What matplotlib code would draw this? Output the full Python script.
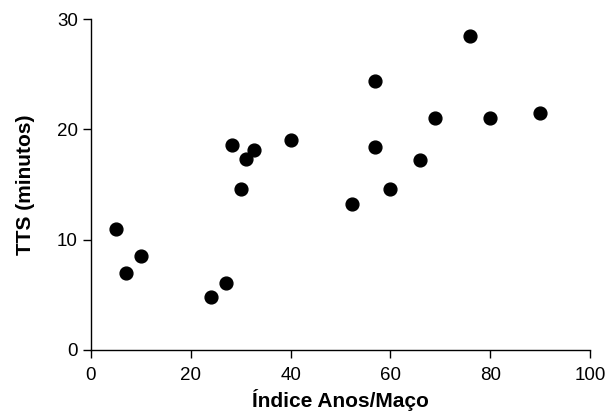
import matplotlib
matplotlib.use("Agg")
import matplotlib.pyplot as plt

plt.rcParams['font.family'] = ['Liberation Sans', 'DejaVu Sans']

indice = [5, 7, 10, 24, 27, 28.2, 30, 31, 32.7, 40,
          52.4, 57, 57, 60, 66, 69, 76, 80, 90]
tts = [11.0, 7.0, 8.5, 4.8, 6.1, 18.6, 14.6, 17.3, 18.1, 19.0,
       13.2, 24.4, 18.4, 14.6, 17.2, 21.0, 28.5, 21.0, 21.5]
xticks = [0, 20, 40, 60, 80, 100]
yticks = [0, 10, 20, 30]

fig = plt.figure(figsize=(6.07, 4.18), dpi=100)
ax = fig.add_axes([91/607, 68/418, 499/607, 331/418])
ax.scatter(indice, tts, s=85, color='black', zorder=3, clip_on=False)
ax.set_xlim(0, 100)
ax.set_ylim(0, 30)
ax.set_xticks(xticks)
ax.set_yticks(yticks)
ax.spines['top'].set_visible(False)
ax.spines['right'].set_visible(False)
for s in ('left', 'bottom'):
    ax.spines[s].set_linewidth(1.0)
ax.tick_params(direction='out', length=6, width=1.0, labelsize=13.5)
ax.tick_params(axis='x', pad=6)
ax.tick_params(axis='y', pad=3.5)
ax.set_xlabel('Índice Anos/Maço', fontsize=15, fontweight='bold', labelpad=4)
ax.set_ylabel('TTS (minutos)', fontsize=15, fontweight='bold', labelpad=16)
fig.savefig('out.png', dpi=100)
